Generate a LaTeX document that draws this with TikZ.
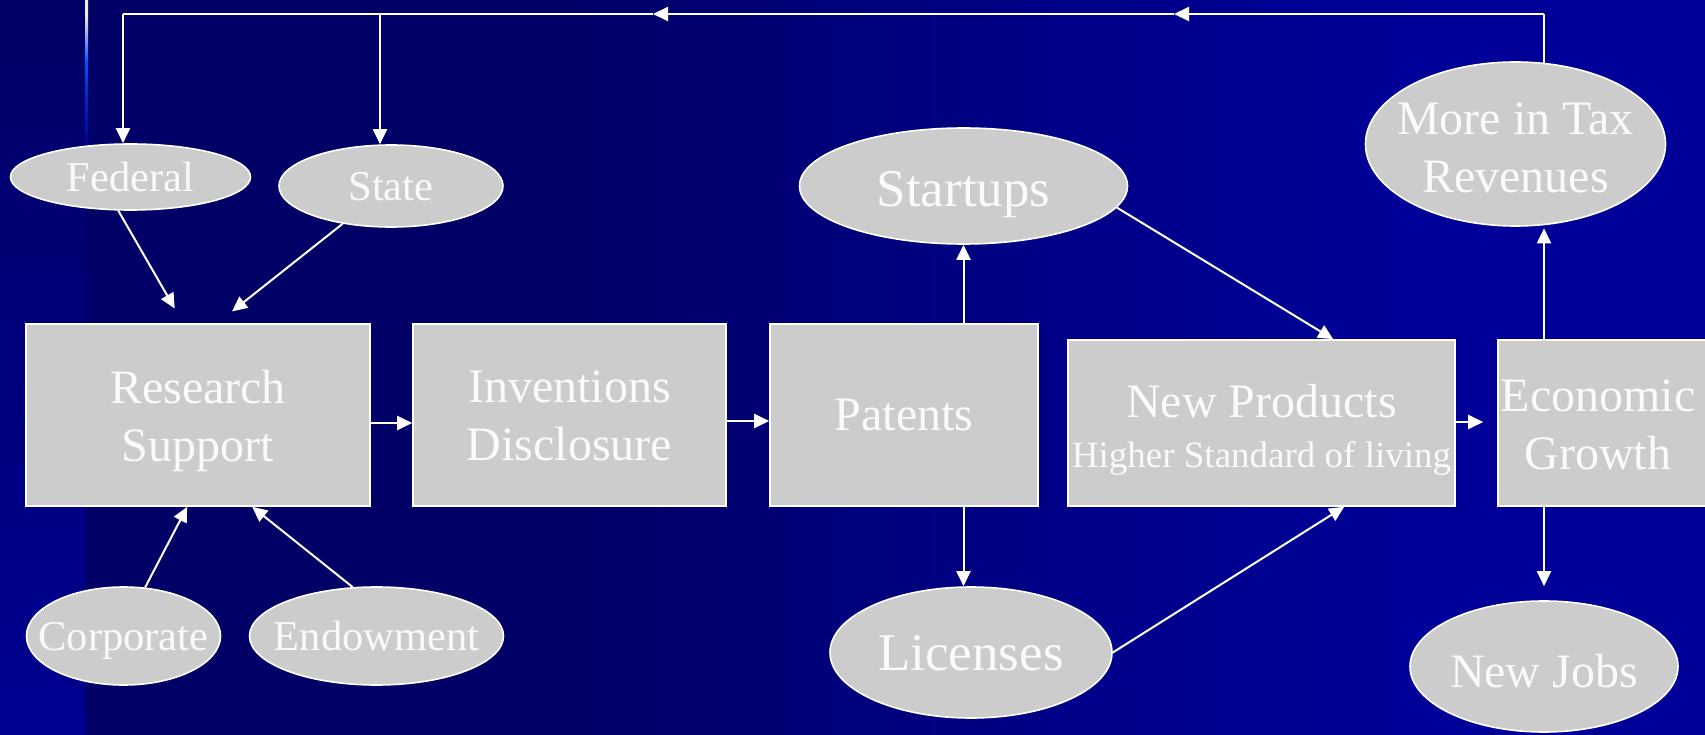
\documentclass[tikz,border=0pt]{standalone}
\usepackage{fontspec}
\setmainfont{Liberation Serif}
\usetikzlibrary{arrows.meta,shapes.geometric}

\definecolor{bgdark}{HTML}{000066}
\definecolor{bgmid}{HTML}{000088}
\definecolor{bglight}{HTML}{000099}
\definecolor{stripbot}{HTML}{000092}
\definecolor{boxgray}{HTML}{CCCCCC}
\definecolor{txtwhite}{HTML}{FAFAFA}
\definecolor{lineA}{HTML}{000090}
\definecolor{lineB}{HTML}{0022BB}
\definecolor{lineC}{HTML}{0055FF}
\definecolor{lineD}{HTML}{7799FF}
\definecolor{lineE}{HTML}{EEEEDD}

% background: dark navy on the left, brighter blue to the right
\pgfdeclarehorizontalshading{slidebg}{100bp}{%
  color(0bp)=(bgdark); color(25bp)=(bgdark); color(41bp)=(bgdark);
  color(56bp)=(bgmid); color(67bp)=(bglight); color(75bp)=(bglight);
  color(100bp)=(bglight)}
% thin accent rule at the top of the left margin
\pgfdeclareverticalshading{accentrule}{100bp}{%
  color(0bp)=(lineA); color(25bp)=(lineA); color(40bp)=(lineB);
  color(54bp)=(lineC); color(61bp)=(lineD); color(70bp)=(lineE);
  color(75bp)=(lineE); color(100bp)=(lineE)}

\begin{document}
\begin{tikzpicture}[x=1pt,y=-1pt,
  stepbox/.style={rectangle, draw=white, line width=1.6pt, fill=boxgray, inner sep=0pt},
  oval/.style={ellipse, draw=white, line width=1.6pt, fill=boxgray, inner sep=0pt},
  lbl/.style={text=txtwhite, align=center, inner sep=0pt, text depth=0pt},
  fmain/.style={font=\fontsize{48}{58}\selectfont},
  fsmall/.style={font=\fontsize{42.5}{51}\selectfont},
  flarge/.style={font=\fontsize{53}{64}\selectfont},
  link/.style={draw=white, line width=2pt},
  arr/.style={link, -{Triangle[length=15pt,width=14pt]}},
]
\useasboundingbox (0,0) rectangle (1705,735);
\clip (0,0) rectangle (1705,735);

% backdrop
\shade[shading=slidebg] (0,0) rectangle (1705,735);
\shade[top color=bgdark, bottom color=stripbot] (0,0) rectangle (85,735);
\shade[shading=accentrule] (85,0) rectangle (88,146);

% helper points for the feedback loop and the horizontal links
\coordinate (tr) at (1544,14);
\coordinate (tl) at (123,14);
\coordinate (sb) at (380,14);
\coordinate (m1) at (1174,14);
\coordinate (m2) at (653,14);
\coordinate (rowA) at (0,423);
\coordinate (rowB) at (0,421);
\coordinate (rowC) at (0,422);

% the return line runs down into the top of the tax oval
\draw[link] (tr) -- ++(0,60);

% main chain
\node[stepbox, minimum width=344pt, minimum height=182pt,
  label={[lbl,fmain,yshift=-1pt]center:Research\\Support}] (res) at (198,415) {};
\node[stepbox, minimum width=313pt, minimum height=182pt,
  label={[lbl,fmain,yshift=-1pt]center:Inventions\\Disclosure}] (inv) at (569.5,415) {};
\node[stepbox, minimum width=268pt, minimum height=182pt,
  label={[lbl,fmain]center:Patents}] (pat) at (904,415) {};
\node[stepbox, minimum width=387pt, minimum height=166pt,
  label={[lbl,font=\fontsize{37}{50}\selectfont,yshift=-3pt]center:{\fontsize{48}{58}\selectfont New Products}\\Higher Standard of living}] (np) at (1261.5,423) {};
\node[stepbox, minimum width=214pt, minimum height=166pt] (eco) at (1605,423) {};
\node[lbl,fmain,yshift=-2pt] at (1598,423) {Economic\\Growth};

% funding sources
\node[oval, minimum width=240pt, minimum height=66pt,
  label={[lbl,fsmall]center:Federal}] (fed) at (130.5,177) {};
\node[oval, minimum width=224pt, minimum height=82pt,
  label={[lbl,fsmall]center:State}] (sta) at (391,186) {};
\node[oval, minimum width=194pt, minimum height=98pt,
  label={[lbl,fsmall]center:Corporate}] (cor) at (123.5,636) {};
\node[oval, minimum width=254pt, minimum height=98pt,
  label={[lbl,fsmall]center:Endowment}] (endw) at (376.5,636) {};

% outcomes
\node[oval, minimum width=328pt, minimum height=116pt,
  label={[lbl,flarge,yshift=-3pt]center:Startups}] (stu) at (963.5,186) {};
\node[oval, minimum width=282pt, minimum height=131pt,
  label={[lbl,flarge]center:Licenses}] (lic) at (971,652.5) {};
\node[oval, minimum width=300pt, minimum height=164pt,
  label={[lbl,fmain,yshift=-4pt]center:More in Tax\\Revenues}] (mor) at (1515.5,144) {};
\node[oval, minimum width=268pt, minimum height=131pt,
  label={[lbl,fmain,yshift=-4pt]center:New Jobs}] (job) at (1544,666.5) {};

% chain links
\draw[arr] (res.east |- rowA) -- (inv.west |- rowA);
\draw[arr] (inv.east |- rowB) -- (pat.west |- rowB);
\draw[arr, shorten >=14pt] (np.east |- rowC) -- (eco.west |- rowC);

% funding into research
\draw[arr, shorten >=17pt] (fed.250) -- ([xshift=158pt]res.north west);
\draw[arr, shorten >=19pt] (sta.218) -- ([xshift=192pt]res.north west);
\draw[arr] (cor.66) -- ([xshift=162pt]res.south west);
\draw[arr] (endw.116) -- ([xshift=227pt]res.south west);

% patents branch out
\draw[arr] (pat.north -| stu.south) -- (stu.south);
\draw[arr] (pat.south -| stu.south) -- (stu.south |- lic.north);
\draw[arr] (stu.352) -- ([xshift=266pt]np.north west);
\draw[arr] (lic.east) -- ([xshift=277pt]np.south west);

% growth effects
\draw[arr, shorten >=1.5pt] (eco.north -| tr) -- (tr |- mor.south);
\draw[arr, shorten >=14pt] (eco.south -| job.north) -- (job.north);

% tax revenues fed back to the public funders
\draw[arr] (tr) -- (m1);
\draw[arr] (m1) -- (m2);
\draw[link] (m2) -- (tl);
\draw[arr] (tl) -- (tl |- fed.north);
\draw[arr] (sb) -- (sb |- sta.north);
\end{tikzpicture}
\end{document}
